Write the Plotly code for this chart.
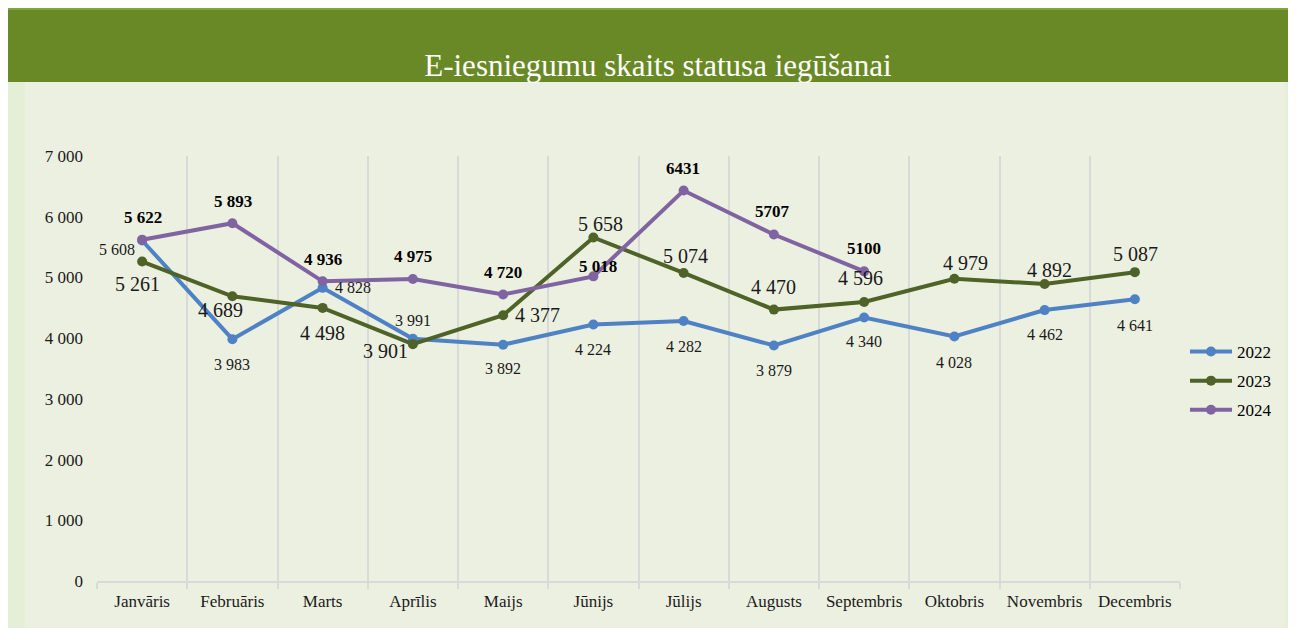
import plotly.graph_objects as go

months = ["Janvāris", "Februāris", "Marts", "Aprīlis", "Maijs", "Jūnijs",
          "Jūlijs", "Augusts", "Septembris", "Oktobris", "Novembris", "Decembris"]
v2022 = [5608, 3983, 4828, 3991, 3892, 4224, 4282, 3879, 4340, 4028, 4462, 4641]
v2023 = [5261, 4689, 4498, 3901, 4377, 5658, 5074, 4470, 4596, 4979, 4892, 5087]
v2024 = [5622, 5893, 4936, 4975, 4720, 5018, 6431, 5707, 5100]
labels2024 = ["5 622", "5 893", "4 936", "4 975", "4 720", "5 018", "6431", "5707", "5100"]

def fmt(v):
    return f"{v:,}".replace(",", " ")

# label placement (xanchor, xshift, yshift) relative to each point
off2022 = [("right", -5, -9), ("center", 0, -25), ("left", 10, 0), ("center", 0, 18),
           ("center", 0, -24), ("center", 0, -25), ("center", 0, -25), ("center", 0, -25),
           ("center", 0, -24), ("center", 0, -26), ("center", 0, -24), ("center", 0, -26)]
off2023 = [("center", -5, -22), ("center", -12, -14), ("center", 0, -25), ("center", -27, -7),
           ("left", 10, 0), ("center", 7, 13), ("center", 2, 17), ("center", 0, 23),
           ("center", -4, 24), ("center", 11, 16), ("center", 5, 14), ("center", 1, 18)]
off2024 = [("center", 1, 22), ("center", 1, 22), ("center", 0, 22), ("center", 0, 22),
           ("center", 0, 22), ("center", 5, 10), ("center", -1, 22), ("center", -1, 23),
           ("center", 0, 23)]

serif = "Liberation Serif"
ink = "#1a1a1a"
colors = {"2022": "#4F81C5", "2023": "#4F6228", "2024": "#8064A2"}

fig = go.Figure()
for i, (name, vals) in enumerate([("2022", v2022), ("2023", v2023), ("2024", v2024)]):
    fig.add_trace(go.Scatter(
        x=months[:len(vals)], y=vals, name=name, mode="lines+markers",
        legendgroup=name,
        line=dict(color=colors[name], width=4), marker=dict(size=10, color=colors[name])))

annotations = []
series_labels = [
    (v2022, [fmt(v) for v in v2022], off2022, dict(family=serif, size=16, color=ink)),
    (v2023, [fmt(v) for v in v2023], off2023, dict(family=serif, size=20, color=ink)),
    (v2024, labels2024, off2024, dict(family=serif, size=17, color="#000", weight="bold")),
]
for vals, texts, offs, font in series_labels:
    for m, v, t, (xa, xs, ys) in zip(months, vals, texts, offs):
        annotations.append(dict(x=m, y=v, xref="x", yref="y", text=t, showarrow=False,
                                xanchor=xa, yanchor="middle", xshift=xs, yshift=ys,
                                font=font))

# page body has an 8px margin; paper origin sits at (8, 8) on screen
L, T, R, B = 89, 148, 124, 55
W, H = 1296, 628
PW, PH = W - L - R, H - T - B

def py(p):  # paper pixel from top -> paper fraction
    return 1 + (T - p) / PH

def px(p):  # paper pixel from left -> paper fraction
    return (p - L) / PW

fig.update_layout(
    width=W, height=H,
    margin=dict(l=L, r=R, t=T, b=B),
    paper_bgcolor="#ECF0E0", plot_bgcolor="#ECF0E0",
    separators=", ",
    font=dict(family=serif, size=17, color=ink),
    title=dict(text="E-iesniegumu skaits statusa iegūšanai", x=650 / W, xref="container",
               xanchor="center", y=1 - 57 / H, yanchor="middle", yref="container",
               font=dict(family=serif, size=31, color="white")),
    showlegend=True,
    legend=dict(x=px(1177), xanchor="left", y=py(326), yanchor="top",
                font=dict(family=serif, size=17, color="#000"), itemwidth=42,
                bgcolor="rgba(0,0,0,0)", tracegroupgap=4),
    annotations=annotations,
    shapes=[
        dict(type="rect", xref="paper", yref="paper", x0=px(-2), x1=px(17),
             y0=py(H), y1=py(70), fillcolor="#E5EFD7", line=dict(width=0), layer="below"),
        dict(type="rect", xref="paper", yref="paper", x0=px(1277), x1=px(W),
             y0=py(H), y1=py(70), fillcolor="#E5EFD7", line=dict(width=0), layer="below"),
        dict(type="rect", xref="paper", yref="paper", x0=px(-8), x1=px(W),
             y0=py(74), y1=py(-1), fillcolor="#688925",
             line=dict(width=0), layer="below"),
        dict(type="rect", xref="paper", yref="paper", x0=px(-8), x1=px(W),
             y0=py(2), y1=py(-1), fillcolor="#7CA83A",
             line=dict(width=0), layer="below"),
    ],
)
fig.update_xaxes(type="category", tickson="boundaries", showgrid=True,
                 gridcolor="#D9D9D9", gridwidth=2, ticks="outside", ticklen=6,
                 tickcolor="#D9D9D9", tickwidth=2, showline=True, linecolor="#D9D9D9",
                 linewidth=2, ticklabelstandoff=4,
                 tickfont=dict(family=serif, size=17, color=ink),
                 range=[-0.5, 11.5], zeroline=False)
fig.update_yaxes(range=[0, 7000], dtick=1000, tickformat=",d", showgrid=False,
                 zeroline=False, showline=False, ticks="", ticklabelstandoff=13,
                 tickfont=dict(family=serif, size=17, color=ink))

fig.write_html("out.html")
